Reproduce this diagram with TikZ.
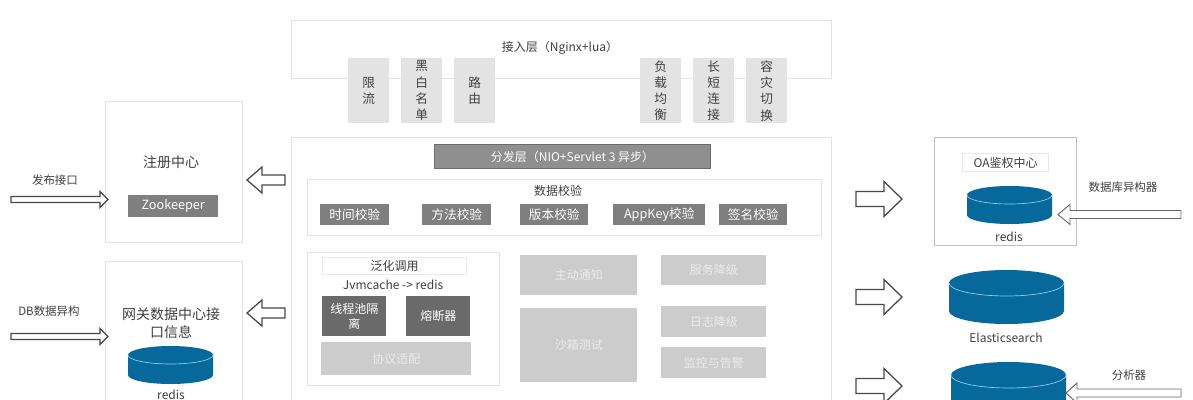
\documentclass[tikz,border=0pt]{standalone}
\usepackage{fontspec}
\setmainfont{Noto Sans CJK SC}
\definecolor{lineg}{HTML}{E2E2E2}
\definecolor{tagg}{HTML}{E3E3E3}
\definecolor{headg}{HTML}{8F8F8F}
\definecolor{checkg}{HTML}{7F7F7F}
\definecolor{darkg}{HTML}{6A6A6A}
\definecolor{softg}{HTML}{CCCCCC}
\definecolor{txt}{HTML}{404040}
\definecolor{dbblue}{HTML}{06689B}
\definecolor{dbline}{HTML}{8FD0EE}
\tikzset{
  x=0.75pt,y=-0.75pt,
  every node/.style={font=\fontsize{9}{11}\selectfont,text=txt,inner sep=0pt,align=center},
  frame/.style={draw=lineg,line width=0.9pt,fill=white},
  tag/.style={fill=tagg,text=txt,font=\fontsize{9.5}{12.2}\selectfont},
  head/.style={fill=headg,draw=black!58,line width=0.8pt,text=white},
  check/.style={fill=checkg,text=white,font=\fontsize{9.5}{11}\selectfont},
  dark/.style={fill=darkg,text=white},
  soft/.style={fill=softg,text=white!92!black},
  label/.style={font=\fontsize{8.6}{11}\selectfont},
  blockarrow/.style={draw=black!72,line width=0.95pt,fill=white,line join=miter},
  db/.style={fill=dbblue},
  dbrim/.style={draw=dbline,line width=0.5pt},
}
% \dbcyl{left}{right}{top}{bottom}{ellipse half-height}
\newcommand{\dbcyl}[5]{%
  \path[db] (#1,#3+#5) arc[start angle=180,end angle=0,x radius={(#2-#1)/2*0.75pt},y radius=#5*0.75pt]
    -- (#2,#4-#5) arc[start angle=0,end angle=-180,x radius={(#2-#1)/2*0.75pt},y radius=#5*0.75pt] -- cycle;
  \draw[dbrim] (#1,#3+#5) arc[start angle=180,end angle=360,x radius={(#2-#1)/2*0.75pt},y radius=#5*0.75pt];
}
% \harrow[opts]{tail x}{head base x}{tip x}{centre y}{shaft half}{head half}
\newcommand{\harrow}[7][]{%
  \draw[blockarrow,#1] (#2,#5-#6) -- (#3,#5-#6) -- (#3,#5-#7) -- (#4,#5) -- (#3,#5+#7) -- (#3,#5+#6) -- (#2,#5+#6) -- cycle;
}
\newcommand{\bx}[6][]{\node[#1,anchor=north west,minimum width={(#4-#3)*0.75pt},minimum height={(#6-#5)*0.75pt}] (#2) at (#3,#5)}
\begin{document}
\begin{tikzpicture}
\useasboundingbox (0,0) rectangle (1193,400);
\clip (0,0) rectangle (1193,400);
% access layer
\bx[frame]{access}{291}{831}{20}{78} {};
\node (accesst) at (560,48) {接入层（Nginx+lua）};
\bx[tag]{t1}{348}{389}{58}{123} {限\\流};
\bx[tag]{t2}{401}{442}{58}{123} {黑\\白\\名\\单};
\bx[tag]{t3}{454}{495}{58}{123} {路\\由};
\bx[tag]{t4}{640}{681}{58}{123} {负\\载\\均\\衡};
\bx[tag]{t5}{693}{734}{58}{123} {长\\短\\连\\接};
\bx[tag]{t6}{746}{787}{58}{123} {容\\灾\\切\\换};
% dispatch layer
\bx[frame]{dispatch}{291}{831}{137}{420} {};
\bx[head]{dhead}{434}{710}{144}{168} {分发层（NIO+Servlet 3 异步）};
\bx[frame]{checks}{307}{821}{179}{235} {};
\node (checkst) at (558,191) {数据校验};
\bx[check]{c1}{320}{389}{204}{225} {时间校验};
\bx[check]{c2}{422}{491}{204}{225} {方法校验};
\bx[check]{c3}{520}{588}{204}{225} {版本校验};
\bx[check]{c4}{613}{705}{204}{225} {AppKey校验};
\bx[check]{c5}{719}{787}{204}{225} {签名校验};
% generic call
\bx[frame]{generic}{307}{499}{252}{385} {};
\bx[frame,draw=lineg!70]{gtitle}{322}{466}{257}{274} {泛化调用};
\node (jvm) at (393,285) {Jvmcache -> redis};
\bx[dark]{g1}{322}{386}{296}{336} {线程池隔\\离};
\bx[dark]{g2}{406}{470}{296}{336} {熔断器};
\bx[soft]{g3}{321}{471}{342}{375} {协议适配};
\bx[soft]{s1}{520}{637}{255}{295} {主动通知};
\bx[soft]{s2}{520}{637}{308}{382} {沙箱测试};
\bx[soft]{s3}{661}{766}{255}{285} {服务降级};
\bx[soft]{s4}{661}{766}{306}{337} {日志降级};
\bx[soft]{s5}{661}{766}{347}{378} {监控与告警};
% left column
\bx[frame]{reg}{105}{242}{101}{242} {};
\node[font=\fontsize{10.5}{13}\selectfont] (regt) at (171,162) {注册中心};
\bx[check]{zk}{128}{218}{195}{217} {Zookeeper};
\bx[frame]{gw}{105}{242}{261}{420} {};
\node[font=\fontsize{10.5}{13.5}\selectfont] (gwt) at (171,323) {网关数据中心接\\口信息};
\dbcyl{128}{213}{346}{384}{9}
\node (gwdb) at (171,395) {redis};
\node[label] (pub) at (55,180) {发布接口};
\node[label] (dbsync) at (49,311) {DB数据异构};
\harrow{11}{100}{108}{199.5}{3}{8}
\harrow{11}{100}{108}{336.5}{3}{8}
\harrow{285}{262}{247}{180}{5}{13}
\harrow{285}{262}{247}{313}{5}{13}
% right column
\harrow{856}{884}{902}{199}{7.5}{17.5}
\harrow{856}{884}{902}{297}{7.5}{17.5}
\harrow{856}{884}{902}{386}{7.5}{17.5}
\bx[frame,draw=black!25]{oa}{934}{1076}{137}{245} {};
\bx[frame,draw=lineg!80]{oat}{962}{1048}{153}{171} {OA鉴权中心};
\dbcyl{967}{1052}{186}{224}{9}
\node (oadb) at (1009,237) {redis};
\dbcyl{949}{1064}{270}{324}{13}
\node (es) at (1006,338) {Elasticsearch};
\dbcyl{951}{1066}{362}{430}{13}
\node[label] (dbh) at (1123,187) {数据库异构器};
\node[label] (ana) at (1129,375) {分析器};
\harrow[draw=black!60,line width=0.7pt]{1181}{1070}{1058}{214.5}{4}{10}
\harrow[draw=black!60,line width=0.7pt]{1181}{1077}{1066}{393}{4}{10}
\end{tikzpicture}
\end{document}
